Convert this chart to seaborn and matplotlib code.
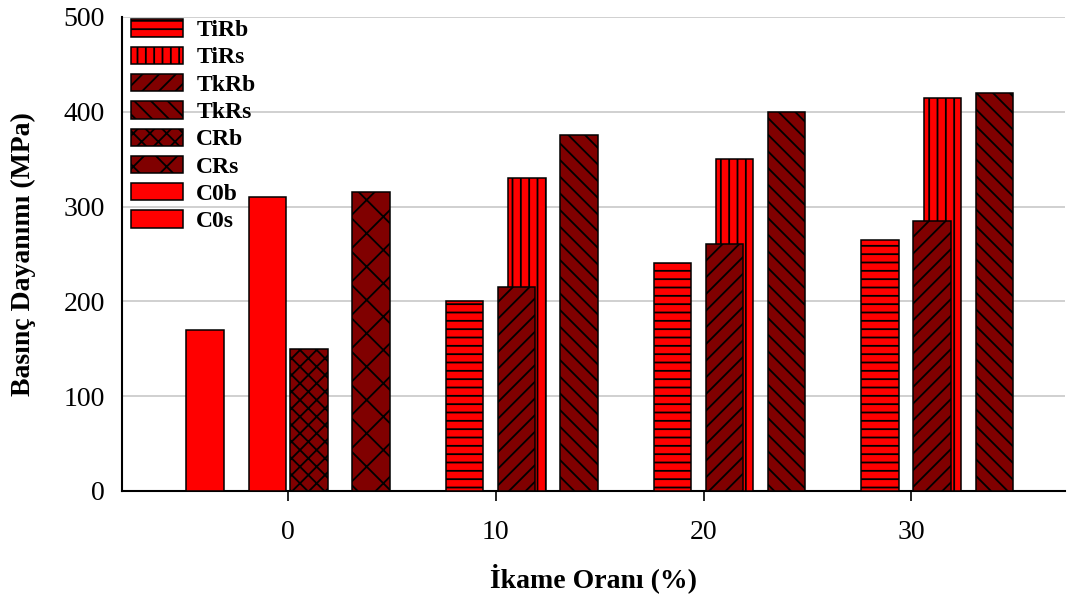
import numpy as np
import pandas as pd
import matplotlib
matplotlib.use("Agg")
import matplotlib.pyplot as plt
import seaborn as sns

# Compressive strength (MPa) by replacement ratio; each series sits at its own x offset
series = ["TiRb", "TiRs", "TkRb", "TkRs", "CRb", "CRs", "C0b", "C0s"]
positions = {
    "TiRb": [8.5, 18.5, 28.5],
    "TiRs": [11.5, 21.5, 31.5],
    "TkRb": [11, 21, 31],
    "TkRs": [14, 24, 34],
    "CRb": [1],
    "CRs": [4],
    "C0b": [-4],
    "C0s": [-1],
}
strength = {
    "TiRb": [200, 240, 265],
    "TiRs": [330, 350, 415],
    "TkRb": [215, 260, 285],
    "TkRs": [375, 400, 420],
    "CRb": [150],
    "CRs": [315],
    "C0b": [170],
    "C0s": [310],
}
x_ticks = [0, 10, 20, 30]
y_ticks = [0, 100, 200, 300, 400, 500]

colors = {
    "TiRb": "#ff0000", "TiRs": "#ff0000", "TkRb": "#800000", "TkRs": "#800000",
    "CRb": "#800000", "CRs": "#800000", "C0b": "#ff0000", "C0s": "#ff0000",
}
hatches = {
    "TiRb": "--", "TiRs": "||", "TkRb": "//", "TkRs": "\\\\",
    "CRb": "xx", "CRs": "x", "C0b": "", "C0s": "",
}

sns.set_theme(style="white")
plt.rcParams["font.family"] = ["Liberation Serif", "DejaVu Serif"]
plt.rcParams["text.color"] = "black"
plt.rcParams["axes.labelcolor"] = "black"
plt.rcParams["hatch.linewidth"] = 1.3
plt.rcParams["hatch.color"] = "black"

fig = plt.figure(figsize=(10.78, 5.97), dpi=100)
ax = fig.add_axes([0.113, 0.1776, 0.875, 0.794])

bar_w = 1.8
handles = []
for name in series:
    df = pd.DataFrame({"x": positions[name], "y": strength[name]})
    uniq = np.unique(df["x"])
    spacing = np.min(np.diff(uniq)) if len(uniq) > 1 else 1.0
    before = len(ax.patches)
    sns.barplot(data=df, x="x", y="y", native_scale=True, width=bar_w / spacing,
                color=colors[name], saturation=1, edgecolor="black", linewidth=1.1,
                errorbar=None, ax=ax, zorder=3)
    for p in ax.patches[before:]:
        p.set_hatch(hatches[name])
        p.set_facecolor(colors[name])
    handles.append(plt.Rectangle((0, 0), 1, 1, facecolor=colors[name], edgecolor="black",
                                 linewidth=1.1, hatch=hatches[name]))

ax.set_xlim(-8, 37.4)
ax.set_ylim(0, 500)
ax.set_xticks(x_ticks)
ax.set_xticklabels([str(v) for v in x_ticks])
ax.set_yticks(y_ticks)
ax.yaxis.grid(True, color="#c8c8c8", linewidth=1.2, zorder=0)
ax.set_axisbelow(True)

for s in ["top", "right"]:
    ax.spines[s].set_visible(False)
for s in ["left", "bottom"]:
    ax.spines[s].set_color("black")
    ax.spines[s].set_linewidth(1.5)

ax.tick_params(axis="x", which="both", bottom=True, length=7, width=1.2, direction="out",
               pad=14, labelsize=20, colors="black")
ax.tick_params(axis="y", left=False, length=0, pad=12, labelsize=20, colors="black")

ax.set_xlabel("İkame Oranı (%)", fontsize=20, fontweight="bold", labelpad=13, color="black")
ax.set_ylabel("Basınç Dayanımı (MPa)", fontsize=20, fontweight="bold", labelpad=20, color="black")

leg = ax.legend(handles, series, loc="upper left", bbox_to_anchor=(0.0, 1.015),
                frameon=True, fancybox=False, framealpha=0, edgecolor="white",
                prop={"weight": "bold", "size": 17}, handlelength=2.2, handleheight=0.75,
                labelspacing=0.23, handletextpad=0.55, borderpad=0.2, borderaxespad=0.2,
                labelcolor="black")
leg.set_zorder(5)

fig.savefig("out.png", dpi=100)
